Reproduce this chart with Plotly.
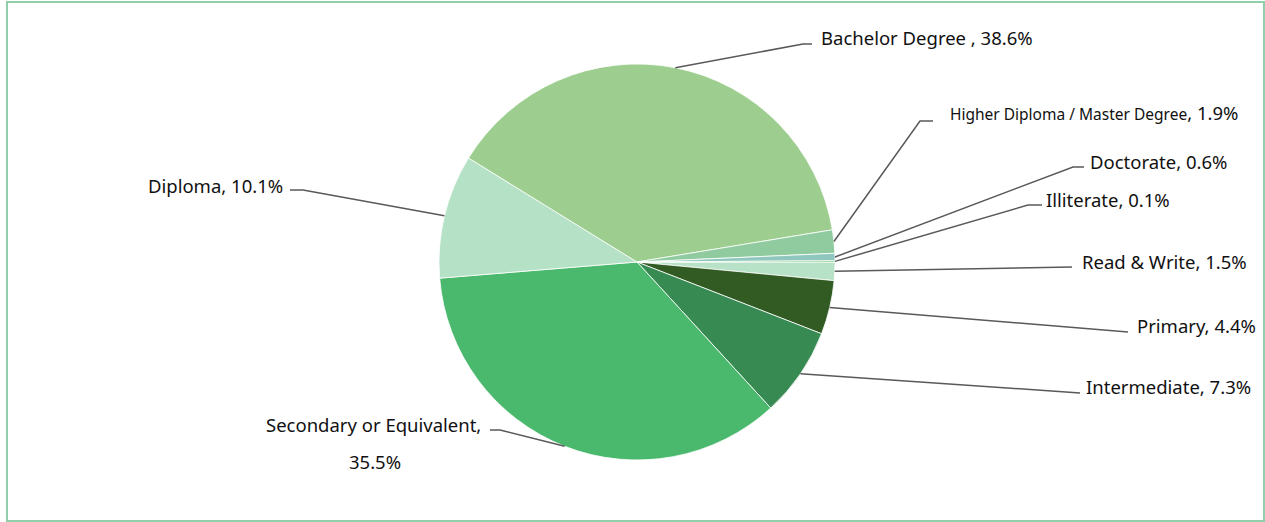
import plotly.graph_objects as go
import numpy as np

W, H = 1265, 522

# slices, clockwise starting at 3 o'clock
labels = ["Read & Write", "Primary", "Intermediate", "Secondary or Equivalent",
          "Diploma", "Bachelor Degree ", "Higher Diploma / Master Degree",
          "Doctorate", "Illiterate"]
values = [1.5, 4.4, 7.3, 35.5, 10.1, 38.6, 1.9, 0.6, 0.1]
colors = ["#b7e2c7", "#315b22", "#378a52", "#4ab86d", "#b5e1c6",
          "#9dce8f", "#90cba0", "#8fc7be", "#4cb84f"]

# pie geometry in screen pixels
cx, cy, r = 637, 262, 198

def px(x):
    return x / W

def py(y):
    return 1 - y / H

# label layout: (elbow x, elbow y, end x, text x, text y, anchor)
layout_pts = {
    "Read & Write": (1072, 267, 1072, 1080, 261, "left"),
    "Primary": (1128, 332, 1128, 1135, 325, "left"),
    "Intermediate": (1080, 393, 1080, 1084, 386, "left"),
    "Secondary or Equivalent": (500, 430, 490, 483, 424, "right"),
    "Diploma": (303, 190, 290, 285, 185, "right"),
    "Bachelor Degree ": (803, 44, 812, 819, 38, "left"),
    "Higher Diploma / Master Degree": (920, 121, 933, 948, 112, "left"),
    "Doctorate": (1073, 167, 1084, 1088, 162, "left"),
    "Illiterate": (1028, 205, 1042, 1044, 199, "left"),
}

fig = go.Figure(go.Pie(
    labels=labels, values=values, sort=False, direction="clockwise",
    rotation=90, textinfo="none", hoverinfo="label+percent",
    marker=dict(colors=colors, line=dict(color="white", width=0.8)),
    domain=dict(x=[px(cx - r), px(cx + r)], y=[py(cy + r), py(cy - r)]),
    showlegend=False,
))

shapes = [dict(type="rect", xref="paper", yref="paper",
               x0=px(7), x1=px(1264), y0=py(521), y1=py(2),
               line=dict(color="#8fd0aa", width=2))]
annotations = []
total = sum(values)
cum = 0
font = dict(family="Noto Sans", size=18.5, color="#111111")
for lab, v in zip(labels, values):
    mid = (cum + v / 2) / total * 2 * np.pi
    cum += v
    sx, sy = cx + r * np.cos(mid), cy + r * np.sin(mid)
    ex, ey, tx, lx, ly, anc = layout_pts[lab]
    shapes.append(dict(type="path", xref="paper", yref="paper",
                       path=f"M {px(sx)},{py(sy)} L {px(ex)},{py(ey)} L {px(tx)},{py(ey)}",
                       line=dict(color="#595959", width=1.5)))
    if lab == "Higher Diploma / Master Degree":
        text = f"<span style='font-size:15.5px'>{lab}</span>, {v}%"
    elif lab == "Secondary or Equivalent":
        text = f"{lab},"
        annotations.append(dict(x=px(375), y=py(461), xref="paper", yref="paper",
                                text=f"{v}%", showarrow=False, xanchor="center",
                                yanchor="middle", font=font))
    else:
        text = f"{lab}, {v}%"
    annotations.append(dict(x=px(lx), y=py(ly), xref="paper", yref="paper",
                            text=text, showarrow=False, xanchor=anc,
                            yanchor="middle", font=font))

fig.update_layout(
    width=W, height=H, margin=dict(l=0, r=0, t=0, b=0),
    paper_bgcolor="white", plot_bgcolor="white",
    shapes=shapes, annotations=annotations,
)

# drop the default page margin so the figure sits at the window corner
fig.write_html("out.html", config={"displayModeBar": False},
               post_script="document.body.style.margin='0';document.body.style.overflow='hidden';")
